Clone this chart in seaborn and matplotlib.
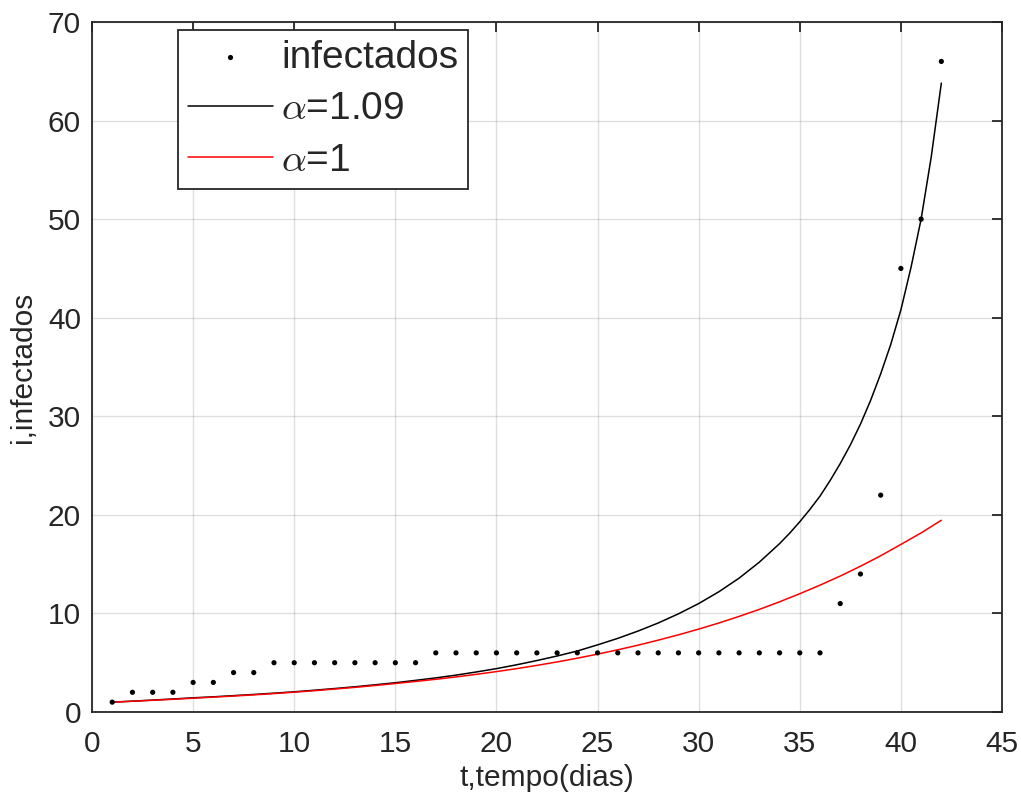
import numpy as np
import pandas as pd
import matplotlib
matplotlib.use('Agg')
import matplotlib.pyplot as plt
import seaborn as sns

# datos observados (dias 1..42)
dias = list(range(1, 43))
infectados = [1, 2, 2, 2, 3, 3, 4, 4, 5, 5, 5, 5, 5, 5, 5, 5,
              6, 6, 6, 6, 6, 6, 6, 6, 6, 6, 6, 6, 6, 6, 6, 6, 6, 6, 6, 6,
              11, 14, 22, 45, 50, 66]

# modelo alpha=1.09, medio dia al final
t_109 = list(range(1, 35)) + [34.5, 35, 35.5, 36, 36.5, 37, 37.5, 38, 38.5,
                              39, 39.5, 40, 40.5, 41, 41.5, 42]
modelo_109 = [1.00, 1.10, 1.21, 1.32, 1.44, 1.54, 1.66, 1.78, 1.91, 2.05,
              2.21, 2.38, 2.56, 2.76, 2.97, 3.21, 3.46, 3.74, 4.06, 4.40,
              4.79, 5.22, 5.68, 6.19, 6.81, 7.47, 8.21, 9.03, 9.96, 11.0,
              12.2, 13.58, 15.2, 17.08, 18.14, 19.3, 20.55, 21.9, 23.48, 25.2,
              27.09, 29.2, 31.6, 34.3, 37.3, 40.8, 45.1, 50.0, 56.3, 63.8]

# modelo alpha=1
modelo_1 = [1.00, 1.09, 1.19, 1.29, 1.40, 1.51, 1.62, 1.74, 1.87, 2.01,
            2.16, 2.33, 2.50, 2.69, 2.89, 3.10, 3.32, 3.56, 3.82, 4.10,
            4.40, 4.73, 5.08, 5.46, 5.87, 6.31, 6.78, 7.29, 7.83, 8.41,
            9.03, 9.70, 10.41, 11.18, 12.00, 12.87, 13.79, 14.79, 15.85, 17.00,
            18.17, 19.45]

datos = pd.DataFrame({'t': dias, 'i': infectados, 'a1': modelo_1})
m109 = pd.DataFrame({'t': t_109, 'i': modelo_109})

sns.set_style("white")
plt.rcParams['font.family'] = ['Liberation Sans', 'DejaVu Sans']
plt.rcParams['mathtext.fontset'] = 'cm'

gris = '#262626'
fig = plt.figure(figsize=(10.21, 7.96), dpi=100)
ax = fig.add_axes([92 / 1021, 84 / 796, 910 / 1021, 690 / 796])

sns.scatterplot(x='t', y='i', data=datos, ax=ax, color='black', marker='o', s=14,
                edgecolor='none', label='infectados', zorder=3)
sns.lineplot(x='t', y='i', data=m109, ax=ax, color='black', linewidth=1.1,
             label=r'$\alpha$=1.09')
sns.lineplot(x='t', y='a1', data=datos, ax=ax, color='red', linewidth=1.1,
             label=r'$\alpha$=1')

ax.set_xlim(0, 45)
ax.set_ylim(0, 70)
ax.set_xticks(range(0, 46, 5))
ax.set_yticks(range(0, 71, 10))
ax.grid(True, color='#262626', alpha=0.15, linewidth=1.0)
ax.set_axisbelow(True)
for s in ax.spines.values():
    s.set_color(gris)
    s.set_linewidth(1.3)
ax.tick_params(direction='in', length=7, width=1.3, colors=gris,
               labelsize=21.5, top=True, right=True, pad=8)
ax.tick_params(axis='x', pad=13)
ax.set_xlabel('t,tempo(dias)', fontsize=21.5, color=gris, labelpad=4)
ax.set_ylabel('i,infectados', fontsize=21.5, color=gris, labelpad=8)

leg = ax.legend(loc='upper left', bbox_to_anchor=(86 / 910, 1 - 8 / 690),
                fontsize=28, frameon=True, fancybox=False, framealpha=1,
                edgecolor=gris, borderpad=0.25, labelspacing=0.4,
                handlelength=2.2, handletextpad=0.2, borderaxespad=0)
leg.get_frame().set_linewidth(1.3)

plt.savefig('out.png', dpi=100)
